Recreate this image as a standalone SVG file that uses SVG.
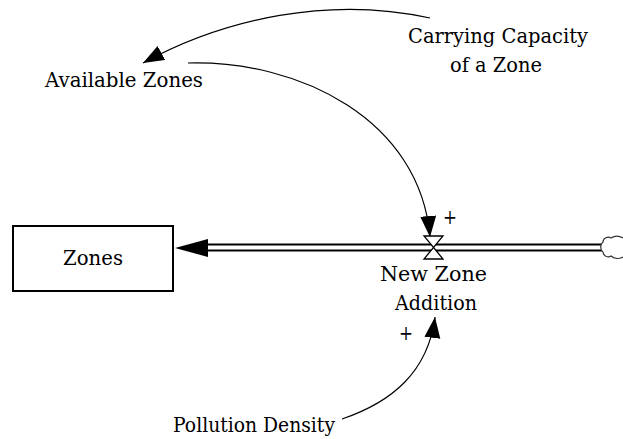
<svg xmlns="http://www.w3.org/2000/svg" width="623" height="439" viewBox="0 0 623 439">
  <style>
    .link { fill: none; stroke: #000; stroke-width: 1.2; }
    .pipe { fill: none; stroke: #000; stroke-width: 2; }
    .lbl { font-family: "DejaVu Serif", "Liberation Serif", serif; font-size: 21px; fill: #000; }
  </style>
  <defs>
    <marker id="head" markerUnits="userSpaceOnUse" markerWidth="24" markerHeight="18" refX="21" refY="8" orient="auto">
      <path d="M0,0 L21,8 L0,16 z" fill="#000"/>
    </marker>
  </defs>
  <rect width="623" height="439" fill="#fff"/>

  <g id="connectors">
    <!-- flow pipe from source cloud into the stock -->
    <line class="pipe" x1="205" y1="244.5" x2="602" y2="244.5"/>
    <line class="pipe" x1="205" y1="250.5" x2="602" y2="250.5"/>
    <polygon points="175,248 208,239 208,257" fill="#000"/>
    <!-- causal links -->
    <path class="link" d="M430,18 C330,-4 225,18 143,63" marker-end="url(#head)"/>
    <path class="link" d="M188,63 C300,60 420,120 430,237" marker-end="url(#head)"/>
    <path class="link" d="M342,419 C392,402 428,372 435,317" marker-end="url(#head)"/>
    <text class="lbl" x="443" y="224" textLength="14" lengthAdjust="spacingAndGlyphs">+</text>
    <text class="lbl" x="399" y="340" textLength="14" lengthAdjust="spacingAndGlyphs">+</text>
  </g>

  <g id="zones">
    <rect x="13" y="226" width="160" height="65" fill="#fff" stroke="#000" stroke-width="2"/>
    <text class="lbl" x="63" y="265" textLength="60" lengthAdjust="spacingAndGlyphs">Zones</text>
  </g>

  <g id="new-zone-addition">
    <path d="M424,236 L443,236 L424,259 L443,259 z" fill="#fff" stroke="#000" stroke-width="1.3"/>
    <text class="lbl" x="380" y="281" textLength="107" lengthAdjust="spacingAndGlyphs">New Zone</text>
    <text class="lbl" x="395" y="310" textLength="82" lengthAdjust="spacingAndGlyphs">Addition</text>
  </g>

  <g id="source-cloud">
    <path d="M623,238 C618,235 614,236 611,238 C608,236 603,238 603,242 C600,244 600,250 603,252 C603,256 608,258 611,256 C614,259 619,259 623,257" fill="#fff" stroke="#333" stroke-width="1.2"/>
  </g>

  <g id="available-zones">
    <text class="lbl" x="45" y="87" textLength="158" lengthAdjust="spacingAndGlyphs">Available Zones</text>
  </g>

  <g id="carrying-capacity">
    <text class="lbl" x="408" y="43" textLength="180" lengthAdjust="spacingAndGlyphs">Carrying Capacity</text>
    <text class="lbl" x="450" y="72" textLength="92" lengthAdjust="spacingAndGlyphs">of a Zone</text>
  </g>

  <g id="pollution-density">
    <text class="lbl" x="173" y="432" textLength="162" lengthAdjust="spacingAndGlyphs">Pollution Density</text>
  </g>
</svg>
